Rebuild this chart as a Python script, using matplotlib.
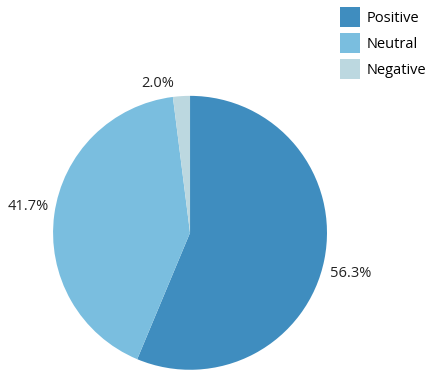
import numpy as np
import matplotlib.pyplot as plt

labels = ['Positive', 'Neutral', 'Negative']
shares = [56.3, 41.7, 2.0]
colors = ['#3f8dbf', '#7abedf', '#bcd8e0']

plt.rcParams['font.family'] = ['Open Sans', 'DejaVu Sans']

fig = plt.figure(figsize=(4.28, 3.74), dpi=100)
ax = fig.add_axes([0.124, 0.011, 0.640, 0.733])

wedges, _ = ax.pie(shares, colors=colors, startangle=90, counterclock=False,
                   radius=1.0, wedgeprops=dict(linewidth=0))

# percentage labels: the corner nearest the pie sits just outside the wedge middle
for w, s in zip(wedges, shares):
    ang = np.deg2rad((w.theta1 + w.theta2) / 2)
    x, y = 1.04 * np.cos(ang), 1.04 * np.sin(ang)
    ha = 'left' if x > 0 else 'right'
    va = 'bottom' if y > 0 else 'top'
    if y < 0:
        y -= 0.04
    if abs(x) < 0.2:
        x -= 0.05
    ax.text(x, y, f'{s:.1f}%', ha=ha, va=va, fontsize=10.5, color='#222222')

ax.set_xlim(-1, 1)
ax.set_ylim(-1, 1)
ax.set_aspect('equal')

fig.legend(wedges, labels, loc='upper left', bbox_to_anchor=(0.794, 0.981),
           frameon=False, fontsize=10.5, handlelength=1.37, handleheight=1.73,
           handletextpad=0.48, labelspacing=0.41, borderaxespad=0, borderpad=0)

fig.savefig('out.png', dpi=100)
